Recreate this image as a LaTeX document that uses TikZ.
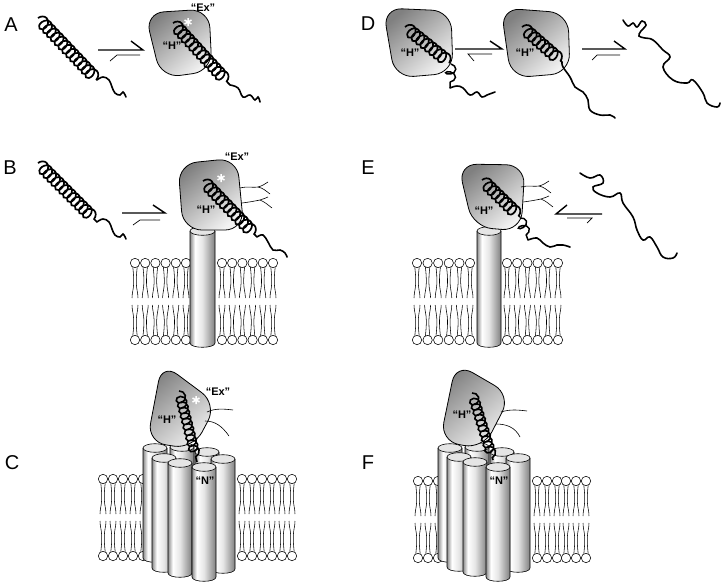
\documentclass[tikz,border=0pt]{standalone}
\usepackage{fontspec}
\setmainfont{Liberation Sans}
\usetikzlibrary{decorations.pathmorphing}
\pgfdeclarehorizontalshading{cylshade}{100bp}{color(0bp)=(black!45); color(25bp)=(black!45); color(35bp)=(white); color(50bp)=(black!10); color(75bp)=(black!50); color(100bp)=(black!50)}
\tikzset{
  helixA/.style={draw, line width=1.7pt, decorate, decoration={coil, amplitude=6.2pt, segment length=5.6pt, aspect=0.75}},
  helixC/.style={draw, line width=1.6pt, decorate, decoration={coil, amplitude=5pt, segment length=5.6pt, aspect=0.9}},
  loops/.style={draw, line width=1.5pt, decorate, decoration={coil, amplitude=5pt, segment length=8pt, aspect=0.6}},
  tailline/.style={draw, line width=1.6pt, line cap=round},
  blob/.style={draw=black, line width=0.8pt, rounded corners=19pt, top color=black!50, bottom color=black!5, shading angle=40},
  harpthick/.style={line width=1.4pt},
  harpthin/.style={line width=0.7pt},
  forkline/.style={line width=0.6pt},
  lipline/.style={line width=0.55pt},
  cylline/.style={line width=0.6pt},
  panel/.style={font=\fontsize{20}{24}\selectfont, inner sep=0},
  lab/.style={font=\fontsize{11}{13}\selectfont\bfseries, inner sep=0},
  liptop/.pic={
    \draw[lipline] (-2.2,4) .. controls (-1.6,10) and (-1.2,14) .. (-1.3,20) .. controls (-1.4,26) and (-3,30) .. (-3,35);
    \draw[lipline] (2.2,4) .. controls (1.6,10) and (1.2,14) .. (1.3,20) .. controls (1.4,26) and (3,30) .. (3,35);
    \draw[lipline, fill=white] (0,0) circle[radius=4.7];
  },
  lipbot/.pic={
    \draw[lipline] (-2.2,-4) .. controls (-1.6,-10) and (-1.2,-14) .. (-1.3,-20) .. controls (-1.4,-26) and (-3,-30) .. (-3,-35);
    \draw[lipline] (2.2,-4) .. controls (1.6,-10) and (1.2,-14) .. (1.3,-20) .. controls (1.4,-26) and (3,-30) .. (3,-35);
    \draw[lipline, fill=white] (0,0) circle[radius=4.7];
  }
}
\newcommand\mycyl[4]{%
  \begin{scope}[shift={(#1,#2)}]
    \shade[shading=cylshade] (0,0) -- (#4,0) -- (#4,#3) .. controls (#4,#3+5.7) and (0,#3+5.7) .. (0,#3) -- cycle;
    \draw[cylline] (0,0) -- (0,#3) .. controls (0,#3+5.7) and (#4,#3+5.7) .. (#4,#3) -- (#4,0);
    \draw[cylline, fill=black!10] (#4/2,0) ellipse [x radius=#4/2, y radius=4.3];
  \end{scope}}
\newcommand\astr[2]{\draw[white, line width=1.5pt] (#1,#2-4) -- (#1,#2+4) (#1-3.5,#2-2) -- (#1+3.5,#2+2) (#1-3.5,#2+2) -- (#1+3.5,#2-2);}
\newcommand\forks[2]{%
  \begin{scope}[shift={(#1,#2)}]
    \draw[forkline] (0,0) .. controls (8,-2) and (13,0) .. (18,-1) .. controls (22,-2) and (25,-4) .. (28,-6);
    \draw[forkline] (18,-1) .. controls (23,0) and (26,3) .. (30,6);
    \draw[forkline] (2,15) .. controls (10,14) and (15,13) .. (20,12) .. controls (23,11) and (26,10) .. (28,9);
    \draw[forkline] (20,12) .. controls (25,14) and (28,17) .. (32,20);
  \end{scope}}
\begin{document}
\begin{tikzpicture}[x=1pt,y=-1pt]
\useasboundingbox (0,0) rectangle (723,584);
\fill[white] (0,0) rectangle (723,584);

% ---------------- Panel A ----------------
\node[panel] (labA) at (11,25) {A};
\draw[helixA] (38,18) -- (97,80);
\draw[tailline] plot[smooth, tension=0.7] coordinates {(97,80) (103,77) (109,80) (112,87) (115,93) (120,95) (123,92) (126,97)};
\draw[harpthick] (98,50) -- (143,50) -- (131,41);
\draw[harpthin] (140,55) -- (117,55) -- (110,61);
\draw[blob] (145,13) -- (209,9) -- (212,71) -- (161,78) -- cycle;
\draw[helixA] (173,23) -- (230,85);
\draw[tailline] plot[smooth, tension=0.7] coordinates {(230,85) (238,88) (243,97) (250,95) (255,100) (258,97) (260,102)};
\astr{188}{22}
\node[lab] (exA) at (203,8) {“Ex”};
\node[lab] (hA) at (172,46) {“H”};

% ---------------- Panel B ----------------
\node[panel] (labB) at (10,168) {B};
\draw[helixA] (38,163) -- (97,222);
\draw[tailline] plot[smooth, tension=0.7] coordinates {(97,222) (103,219) (109,222) (112,229) (115,235) (120,237) (123,234) (126,239)};
\draw[harpthick] (122,213) -- (165,213) -- (153,205);
\draw[harpthin] (160,220) -- (140,220) -- (133,225);
\foreach \x in {135,145.2,155.4,165.6,175.8,186,222,232.2,242.4,252.6,262.8,273} {
  \pic at (\x,263) {liptop};
  \pic at (\x,340) {lipbot};
}
\mycyl{190}{231}{112}{25}
\draw[blob] (178,164) -- (237,158) -- (244,230) -- (183,230) -- cycle;
\forks{240}{188}
\draw[helixA] (203,181) -- (257,237);
\draw[tailline] plot[smooth, tension=0.7] coordinates {(257,237) (263,235) (268,242) (273,250) (280,250) (285,253) (287,257)};
\astr{221}{178}
\node[lab] (exB) at (237,157) {“Ex”};
\node[lab] (hB) at (206,210) {“H”};

% ---------------- Panel C ----------------
\node[panel] (labC) at (12,463) {C};
\foreach \x in {103,113,123,133,143,242,252,262,272,282,292} {
  \pic at (\x,479) {liptop};
  \pic at (\x,556) {lipbot};
}
\mycyl{170}{447}{110}{24}
\mycyl{143}{448}{110}{24}
\mycyl{195}{452}{110}{24}
\draw[blob] (162,363) -- (147,442) -- (193,449) -- (217,404) -- cycle;
\draw[forkline] (207,412) .. controls (215,408) and (225,409) .. (233,410);
\draw[forkline] (205,421) .. controls (215,421) and (222,426) .. (229,436);
\draw[helixC] (179,391) -- (197,462);
\mycyl{152}{458}{110}{24}
\mycyl{211}{459}{110}{24}
\mycyl{168}{463}{110}{24}
\mycyl{192}{467}{110}{24}
\astr{196}{400}
\node[lab] (exC) at (218,392) {“Ex”};
\node[lab] (hC) at (167,420) {“H”};
\node[lab] (nC) at (205,481) {“N”};

% ---------------- Panel D ----------------
\node[panel] (labD) at (368,24) {D};
\draw[blob] (383,8) -- (451,11) -- (453,73) -- (395,78) -- cycle;
\draw[helixA] (405,27) -- (450,63);
\draw[loops] (451,64) -- (450,88);
\draw[tailline] plot[smooth, tension=0.7] coordinates {(450,88) (457,86) (463,88) (470,95) (477,92) (482,97) (487,95) (495,92)};
\draw[harpthick] (455,49) -- (502,49) -- (490,41);
\draw[harpthin] (492,54) -- (468,54) -- (474,61);
\draw[blob] (501,8) -- (568,13) -- (570,73) -- (511,78) -- cycle;
\draw[helixA] (522,27) -- (562,62);
\draw[tailline] plot[smooth, tension=0.7] coordinates {(562,62) (563,67) (570,77) (575,87) (583,92) (588,100) (590,110) (600,115) (610,115) (615,118)};
\draw[harpthick] (582,49) -- (625,49) -- (614,41);
\draw[harpthin] (620,55) -- (597,55) -- (592,60);
\draw[tailline] plot[smooth, tension=0.7] coordinates {(623,20) (628,26) (633,23) (637,27) (642,21) (646,25) (641,31) (639,36) (645,38) (653,40) (663,50) (670,57) (663,67) (673,80) (687,83) (693,80) (703,93) (707,103) (717,107) (720,103)};
\node[lab] (hD1) at (410,53) {“H”};
\node[lab] (hD2) at (525,53) {“H”};

% ---------------- Panel E ----------------
\node[panel] (labE) at (368,168) {E};
\foreach \x in {417,427.6,438.2,448.8,459.4,470,507,517.2,527.4,537.6,547.8,558} {
  \pic at (\x,263) {liptop};
  \pic at (\x,340) {lipbot};
}
\mycyl{477}{231}{112}{24}
\draw[blob] (458,164) -- (525,165) -- (521,231) -- (473,227) -- cycle;
\forks{521}{187}
\draw[helixA] (482,180) -- (520,217);
\draw[loops] (520,218) -- (528,240);
\draw[tailline] plot[smooth, tension=0.7] coordinates {(528,240) (537,238) (543,243) (550,247) (557,245) (563,245) (570,247)};
\draw[harpthick] (602,214) -- (556,214) -- (567,205);
\draw[harpthin] (567,218) -- (592,218) -- (587,223);
\draw[tailline] plot[smooth, tension=0.7] coordinates {(580,173) (590,178) (600,175) (603,183) (593,187) (597,193) (610,197) (620,193) (623,203) (633,217) (637,230) (643,240) (650,237) (657,247) (663,257) (673,258) (677,253)};
\node[lab] (hE) at (484,211) {“H”};

% ---------------- Panel F ----------------
\node[panel] (labF) at (368,463) {F};
\foreach \x in {418,428,438,537,547,557,566,576,586} {
  \pic at (\x,481) {liptop};
  \pic at (\x,558) {lipbot};
}
\mycyl{465}{447}{110}{24}
\mycyl{438}{448}{110}{24}
\mycyl{490}{452}{110}{24}
\draw[blob] (456,363) -- (440,441) -- (483,449) -- (511,395) -- cycle;
\draw[forkline] (501,412) .. controls (510,409) and (519,410) .. (527,411);
\draw[forkline] (496,424) .. controls (506,424) and (515,427) .. (520,437);
\draw[helixC] (472,393) -- (493,460);
\mycyl{447}{457}{110}{24}
\mycyl{506}{458}{110}{24}
\mycyl{463}{462}{110}{24}
\mycyl{486}{467}{110}{24}
\node[lab] (hF) at (462,415) {“H”};
\node[lab] (nF) at (499,481) {“N”};
\end{tikzpicture}
\end{document}
